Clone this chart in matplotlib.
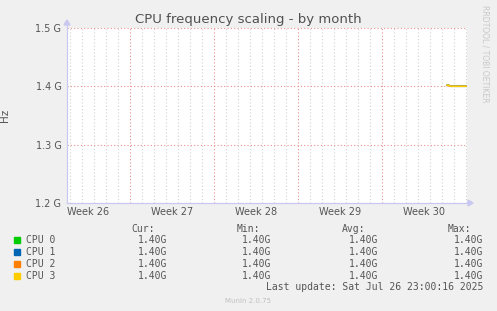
import matplotlib
matplotlib.use("Agg")
import matplotlib.pyplot as plt
from matplotlib.ticker import FixedLocator
from matplotlib.lines import Line2D
from matplotlib.patches import Polygon

# ---- data ----
title = "CPU frequency scaling - by month"
ylabel = "Hz"
week_labels = ["Week 26", "Week 27", "Week 28", "Week 29", "Week 30"]
week_centers = [1.75, 8.75, 15.75, 22.75, 29.75]     # days from left edge
week_bounds = [5.25, 12.25, 19.25, 26.25]
x_max_days = 33.33
y_ticks = [1.2e9, 1.3e9, 1.4e9, 1.5e9]
y_ticklabels = ["1.2 G", "1.3 G", "1.4 G", "1.5 G"]

series_names = ["CPU 0", "CPU 1", "CPU 2", "CPU 3"]
series_colors = ["#00CC00", "#0066B3", "#FF8000", "#FFCC00"]
data_start_day = 31.67
sample_step_days = 1 / 12  # 2-hour samples
values_ghz = [1.4017, 1.4017, 1.4017, 1.4000, 1.4000, 1.4000, 1.4000, 1.4000,
              1.4000, 1.4000, 1.4000, 1.4000, 1.4000, 1.4000, 1.4000, 1.4000,
              1.4000, 1.4000, 1.4000, 1.4000]
cur = ["1.40G", "1.40G", "1.40G", "1.40G"]
mins = ["1.40G", "1.40G", "1.40G", "1.40G"]
avgs = ["1.40G", "1.40G", "1.40G", "1.40G"]
maxs = ["1.40G", "1.40G", "1.40G", "1.40G"]
last_update = "Last update: Sat Jul 26 23:00:16 2025"
munin_version = "Munin 2.0.75"
side_text = "RRDTOOL / TOBI OETIKER"

W, H = 497, 311
fig = plt.figure(figsize=(W / 100, H / 100), dpi=100)
fig.patch.set_facecolor("#F0F0F0")

L, R, T, B = 67, 467, 28, 203
ax = fig.add_axes([L / W, 1 - B / H, (R - L) / W, (B - T) / H])
ax.set_facecolor("white")

xs = [data_start_day + i * sample_step_days for i in range(len(values_ghz))]
ys = [v * 1e9 for v in values_ghz]
for name, c in zip(series_names, series_colors):
    ax.plot(xs, ys, color=c, lw=1.0, zorder=5)

ax.set_xlim(0, x_max_days)
ax.set_ylim(1.2e9, 1.5e9)

# grids
grid_ls = (0, (1, 2))
for i in range(0, 34):
    xd = 0.25 + i
    if xd <= 0 or xd >= x_max_days:
        continue
    if any(abs(xd - wb) < 1e-6 for wb in week_bounds):
        continue
    ax.axvline(xd, color="#D0D0D0", lw=0.8, ls=grid_ls, zorder=1)
for wb in week_bounds:
    ax.axvline(wb, color="#E89090", lw=0.8, ls=grid_ls, zorder=2)
for yt in y_ticks[1:]:
    ax.axhline(yt, color="#E89090", lw=0.8, ls=grid_ls, zorder=2, clip_on=False)

ax.set_yticks(y_ticks)
ax.set_yticklabels(y_ticklabels)
ax.xaxis.set_major_locator(FixedLocator(week_centers))
ax.set_xticklabels(week_labels)
ax.tick_params(axis="both", length=0, labelsize=7, colors="#555555", pad=3)
ax.tick_params(axis="y", pad=4)

for s in ["top", "right", "left", "bottom"]:
    ax.spines[s].set_visible(False)

axis_col = "#C8C8F0"
# axis lines extended with arrows (figure pixel coords)
def fx(px):
    return px / W

def fy(py):
    return 1 - py / H

fig.lines.append(Line2D([fx(L), fx(L)], [fy(B), fy(24)], color=axis_col,
                        lw=0.9, transform=fig.transFigure))
fig.lines.append(Line2D([fx(L), fx(469)], [fy(B), fy(B)], color=axis_col,
                        lw=0.9, transform=fig.transFigure))
fig.patches.append(Polygon([[fx(L - 3), fy(25)], [fx(L + 3), fy(25)],
                            [fx(L), fy(20)]], closed=True, color=axis_col,
                           transform=fig.transFigure))
fig.patches.append(Polygon([[fx(468), fy(B - 3)], [fx(468), fy(B + 3)],
                            [fx(473), fy(B)]], closed=True, color=axis_col,
                           transform=fig.transFigure))

ax.set_ylabel(ylabel, fontsize=7.5, color="#555555")
ax.yaxis.set_label_coords(-(L - 10) / (R - L), 0.5)

fig.text(248 / W, 1 - 19 / H, title, ha="center", va="center", fontsize=9.5,
         color="#505050")
fig.text(485 / W, 1 - 5 / H, side_text, ha="center", va="top", rotation=270,
         fontsize=5.5, color="#C8C8C8")

# legend
mono = dict(family="DejaVu Sans Mono", fontsize=7, color="#555555", va="center")
fig.text(155 / W, 1 - 229 / H, "Cur:", ha="right", **mono)
fig.text(260 / W, 1 - 229 / H, "Min:", ha="right", **mono)
fig.text(365 / W, 1 - 229 / H, "Avg:", ha="right", **mono)
fig.text(471 / W, 1 - 229 / H, "Max:", ha="right", **mono)
row_y = [240, 252, 264, 276]
for i, name in enumerate(series_names):
    y = 1 - row_y[i] / H
    fig.patches.append(plt.Rectangle((14 / W, y - 3 / H), 6 / W, 6 / H,
                                     transform=fig.transFigure,
                                     color=series_colors[i]))
    fig.text(26 / W, y, name, ha="left", **mono)
    fig.text(167 / W, y, cur[i], ha="right", **mono)
    fig.text(271 / W, y, mins[i], ha="right", **mono)
    fig.text(378 / W, y, avgs[i], ha="right", **mono)
    fig.text(483 / W, y, maxs[i], ha="right", **mono)
fig.text(483 / W, 1 - 287 / H, last_update, ha="right", **mono)
fig.text(248 / W, 1 - 301 / H, munin_version, ha="center", va="center",
         fontsize=5, color="#C0C0C0")

fig.savefig("out.png", dpi=100, facecolor=fig.get_facecolor())
